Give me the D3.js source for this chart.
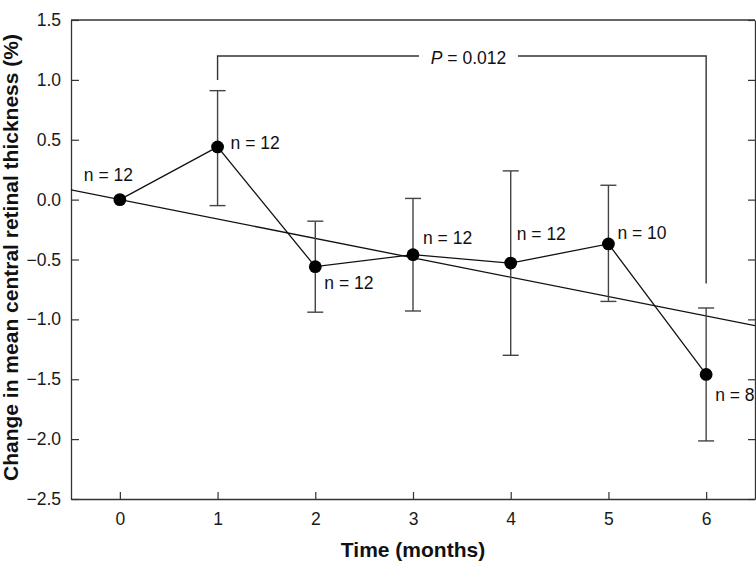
<!DOCTYPE html>
<html>
<head>
<meta charset="utf-8">
<script src="https://cdn.jsdelivr.net/npm/d3@7"></script>
<style>
  html, body { margin: 0; padding: 0; background: #fff; }
  svg { display: block; font-family: "Liberation Sans", Arial, sans-serif; }
</style>
</head>
<body>
<svg id="chart" width="756" height="562"></svg>
<script>
// ---- data ----
const months = [0, 1, 2, 3, 4, 5, 6];
const meanChange = [0.0, 0.44, -0.56, -0.46, -0.53, -0.37, -1.46];
const errUpper = [0.0, 0.47, 0.38, 0.47, 0.77, 0.49, 0.555];
const errLower = [0.0, 0.49, 0.38, 0.47, 0.77, 0.48, 0.555];
const nCounts = [12, 12, 12, 12, 12, 10, 8];
const xTicks = [0, 1, 2, 3, 4, 5, 6];
const yTicks = [-2.5, -2.0, -1.5, -1.0, -0.5, 0.0, 0.5, 1.0, 1.5];
const trendIntercept = 0.0;
const trendSlope = -0.162;
const bracketFrom = 1, bracketTo = 6;
const bracketTop = 1.2, bracketLeftEnd = 1.0, bracketRightEnd = -0.7;
const pLabelValue = "0.012";

// ---- layout ----
const svg = d3.select("#chart");
const L = 71, R = 755, T = 20, B = 499;
const x = d3.scaleLinear().domain([-0.5, 6.5]).range([L, R]);
const y = d3.scaleLinear().domain([-2.5, 1.5]).range([B, T]);
const axisColor = "#333";
const fmt = d3.format(".1f");
const labelSize = "17.5px";

// label offsets (dx from point, dy baseline from point)
const labelOffsets = [[-36, -19], [13, 2], [9, 22], [10, -11], [6, -23], [9, -5], [9, 27]];

svg.append("defs").append("clipPath").attr("id", "clip")
  .append("rect").attr("x", L).attr("y", T).attr("width", R - L).attr("height", B - T);

// frame top line
svg.append("line").attr("x1", L).attr("x2", R).attr("y1", T).attr("y2", T)
  .attr("stroke", axisColor).attr("stroke-width", 1.3);

// left axis
const gl = svg.append("g").attr("transform", `translate(${L},0)`)
  .call(d3.axisLeft(y).tickValues(yTicks).tickFormat(fmt).tickSizeInner(-8).tickSizeOuter(0).tickPadding(10));
// right axis
const gr = svg.append("g").attr("transform", `translate(${R},0)`)
  .call(d3.axisRight(y).tickValues(yTicks).tickFormat("").tickSizeInner(-7).tickSizeOuter(0));
// bottom axis
const gb = svg.append("g").attr("transform", `translate(0,${B})`)
  .call(d3.axisBottom(x).tickValues(xTicks).tickFormat(d3.format("d")).tickSizeInner(-7).tickSizeOuter(0).tickPadding(14));

[gl, gr, gb].forEach(g => {
  g.selectAll("path.domain").attr("stroke", axisColor).attr("stroke-width", 1.3);
  g.selectAll(".tick line").attr("stroke", axisColor).attr("stroke-width", 1.2);
  g.selectAll(".tick text").attr("fill", "#1a1a1a").style("font-size", labelSize)
    .style("font-family", '"Liberation Sans", Arial, sans-serif');
});

// axis titles
svg.append("text").attr("x", (L + R) / 2 + 0).attr("y", 557)
  .attr("text-anchor", "middle").style("font-size", "21px").style("font-weight", "bold")
  .attr("fill", "#111").text("Time (months)");
svg.append("text").attr("transform", `translate(18,${(30 + 485) / 2}) rotate(-90)`)
  .attr("text-anchor", "middle").style("font-size", "21px").style("font-weight", "bold")
  .attr("fill", "#111").text("Change in mean central retinal thickness (%)");

const plot = svg.append("g").attr("clip-path", "url(#clip)");

// trend line
const xd = x.domain();
plot.append("line")
  .attr("x1", x(xd[0])).attr("y1", y(trendIntercept + trendSlope * xd[0]))
  .attr("x2", x(xd[1])).attr("y2", y(trendIntercept + trendSlope * xd[1]))
  .attr("stroke", "#111").attr("stroke-width", 1.3);

// error bars
const pts = months.map((m, i) => ({ m, v: meanChange[i], up: errUpper[i], lo: errLower[i], n: nCounts[i], i }));
const eb = plot.append("g").attr("stroke", "#444").attr("stroke-width", 1.4);
pts.filter(d => d.up > 0 || d.lo > 0).forEach(d => {
  const cx = x(d.m), yt = y(d.v + d.up), yb = y(d.v - d.lo);
  eb.append("line").attr("x1", cx).attr("x2", cx).attr("y1", yt).attr("y2", yb);
  eb.append("line").attr("x1", cx - 8).attr("x2", cx + 8).attr("y1", yt).attr("y2", yt);
  eb.append("line").attr("x1", cx - 8).attr("x2", cx + 8).attr("y1", yb).attr("y2", yb);
});

// connecting line
plot.append("path").datum(pts)
  .attr("d", d3.line().x(d => x(d.m)).y(d => y(d.v)))
  .attr("fill", "none").attr("stroke", "#111").attr("stroke-width", 1.3);

// points
plot.selectAll("circle").data(pts).join("circle")
  .attr("cx", d => x(d.m)).attr("cy", d => y(d.v)).attr("r", 6.4).attr("fill", "#000");

// n labels
svg.selectAll("text.nlab").data(pts).join("text").attr("class", "nlab")
  .attr("x", d => x(d.m) + labelOffsets[d.i][0])
  .attr("y", d => y(d.v) + labelOffsets[d.i][1])
  .style("font-size", labelSize).attr("fill", "#111")
  .text(d => `n = ${d.n}`);

// significance bracket
const bx1 = x(bracketFrom), bx2 = x(bracketTo), by = y(bracketTop);
const gapL = 419, gapR = 518;
const br = svg.append("g").attr("stroke", "#333").attr("stroke-width", 1.4).attr("fill", "none");
br.append("path").attr("d", `M${bx1},${y(bracketLeftEnd)}V${by}H${gapL}`);
br.append("path").attr("d", `M${gapR},${by}H${bx2}V${y(bracketRightEnd)}`);
const pt = svg.append("text").attr("x", (gapL + gapR) / 2).attr("y", by + 8.5)
  .attr("text-anchor", "middle").style("font-size", labelSize).attr("fill", "#111");
pt.append("tspan").style("font-style", "italic").text("P");
pt.append("tspan").text(" = " + pLabelValue);
</script>
</body>
</html>
